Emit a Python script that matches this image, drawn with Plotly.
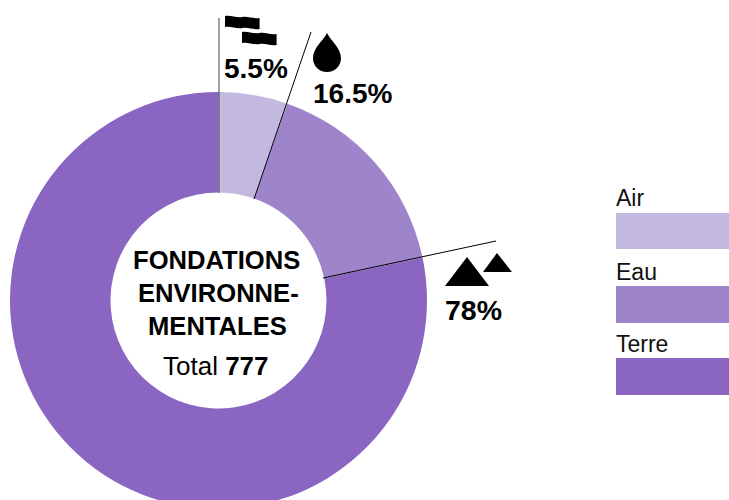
import plotly.graph_objects as go

categories = ["Air", "Eau", "Terre"]
values = [5.35, 16.35, 78.3]
colors = ["#c3b8df", "#9e84cb", "#8a65c2"]
pct_labels = ["5.5%", "16.5%", "78%"]
center_lines = ["FONDATIONS", "ENVIRONNE-", "MENTALES"]
total_label = "Total <b>777</b>"

W, H = 729, 520
FONT = "Liberation Sans"


def px(x):
    return x / W


def py(y):
    return 1 - y / H


def path(cmds):
    out = []
    for c in cmds:
        if isinstance(c, str):
            out.append(c)
        else:
            out.append(f"{px(c[0]):.5f},{py(c[1]):.5f}")
    return " ".join(out)


def txt(x, y, s, size, color="#000", anchor="center", bold=False):
    return dict(x=px(x), y=py(y), xref="paper", yref="paper", showarrow=False,
                xanchor=anchor, yanchor="middle", borderpad=0,
                text=f"<b>{s}</b>" if bold else s,
                font=dict(family=FONT, size=size, color=color))


def line(x0, y0, x1, y1, color="#000"):
    return dict(type="line", xref="paper", yref="paper", x0=px(x0), y0=py(y0),
                x1=px(x1), y1=py(y1), line=dict(color=color, width=1))


def flag(x, y):
    seg = 17.3
    h = 11
    return dict(type="path", xref="paper", yref="paper", line=dict(width=0), fillcolor="#000",
                path=path(["M", (x, y), "C", (x + 6, y - 1), (x + 11, y + 2), (x + seg, y + 1),
                           "C", (x + seg + 6, y), (x + seg + 11, y + 3), (x + 2 * seg, y + 2),
                           "L", (x + 2 * seg, y + 2 + h),
                           "C", (x + seg + 11, y + 3 + h), (x + seg + 6, y + h), (x + seg, y + 1 + h),
                           "C", (x + 11, y + 2 + h), (x + 6, y - 1 + h), (x, y + h), "Z"]))


def tri(ax, ay, x0, x1, by):
    return dict(type="path", xref="paper", yref="paper", line=dict(width=0), fillcolor="#000",
                path=path(["M", (ax, ay), "L", (x1, by), "L", (x0, by), "Z"]))


shapes = [
    line(219, 18, 219, 193, "#444"),
    line(254, 199, 311, 32),
    line(323, 278, 496, 241),
    flag(225, 16),
    flag(242, 32),
    dict(type="path", xref="paper", yref="paper", line=dict(width=0), fillcolor="#000",
         path=path(["M", (327, 33), "C", (331, 41), (341, 48), (341, 58),
                    "C", (341, 66), (335, 72), (327, 72),
                    "C", (319, 72), (313, 66), (313, 58),
                    "C", (313, 48), (323, 41), (327, 33), "Z"])),
    tri(467, 257, 445, 489, 286),
    tri(497, 253, 483, 512, 272),
]
for c, (y0, y1) in zip(colors, [(213, 249), (286, 323), (358, 395)]):
    shapes.append(dict(type="rect", xref="paper", yref="paper", x0=px(616), x1=1,
                       y0=py(y1), y1=py(y0), fillcolor=c, line=dict(width=0)))

annotations = [
    txt(255.5, 69, pct_labels[0], 28, bold=True),
    txt(352, 93, pct_labels[1], 28, bold=True),
    txt(473, 310, pct_labels[2], 28.5, bold=True),
    txt(216, 260, center_lines[0], 25.6, bold=True),
    txt(218, 293, center_lines[1], 25.6, bold=True),
    txt(217, 326, center_lines[2], 25.6, bold=True),
    txt(215.5, 366, total_label, 26),
]
for name, y in zip(categories, [198, 272, 344]):
    annotations.append(txt(615, y, name, 23, color="#111", anchor="left"))

fig = go.Figure(go.Pie(
    labels=categories, values=values, sort=False, direction="clockwise", rotation=0,
    hole=0.518, textinfo="none", hoverinfo="label+percent",
    marker=dict(colors=colors, line=dict(width=0)),
    domain=dict(x=[px(10), px(427)], y=[py(509), py(92)]),
))
fig.update_layout(width=W, height=H, autosize=False, showlegend=False,
                  margin=dict(l=0, r=0, t=0, b=0),
                  paper_bgcolor="#fff", plot_bgcolor="#fff",
                  shapes=shapes, annotations=annotations)
fig.write_html("out.html", config=dict(displayModeBar=False),
               post_script="document.documentElement.style.overflow='hidden';document.body.style.overflow='hidden';document.body.style.margin='0';")
